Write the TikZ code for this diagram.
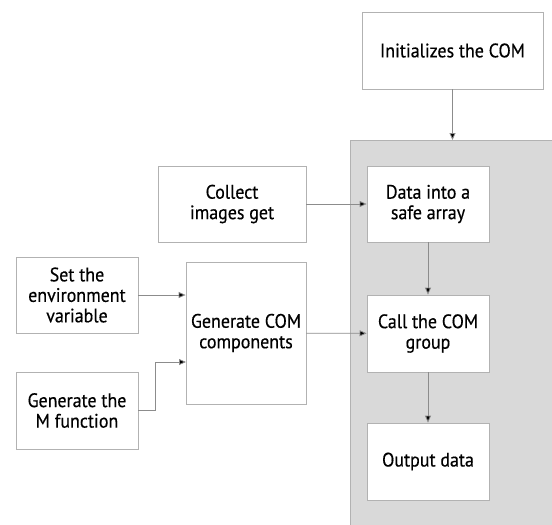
\documentclass[tikz,border=0pt]{standalone}
\usepackage{fontspec}
\setmainfont[FakeStretch=0.92,FakeBold=0.4]{PT Sans}
\usetikzlibrary{arrows.meta}
\begin{document}
\begin{tikzpicture}[x=1pt,y=-1pt,
  box/.style={draw=black!30, fill=white, line width=0.8pt, align=center, inner sep=0pt,
    font=\fontsize{19.5}{20.5}\selectfont},
  conn/.style={draw=black!45, line width=0.8pt, -{Triangle[length=7pt,width=6pt,fill=black]}}]
\useasboundingbox (0,0) rectangle (552,525);
\fill[black!15] (350,140) rectangle (552,525);
\draw[black!30, line width=0.8pt] (350,525) -- (350,140) -- (552,140);
\node[box, minimum width=181pt, minimum height=77pt] (init) at (452.5,50.5) {Initializes the COM};
\node[box, minimum width=148pt, minimum height=76pt] (collect) at (232,204) {Collect\\images get};
\node[box, minimum width=122pt, minimum height=76pt] (data) at (428,204) {Data into a\\safe array};
\node[box, minimum width=122pt, minimum height=76pt] (setenv) at (77,295) {Set the\\environment\\variable};
\node[box, minimum width=120pt, minimum height=142pt] (gencom) at (246,333) {Generate COM\\components};
\node[box, minimum width=122pt, minimum height=77pt] (call) at (428,333.5) {Call the COM\\group};
\node[box, minimum width=122pt, minimum height=77pt] (genm) at (77,410.5) {Generate the\\M function};
\node[box, minimum width=122pt, minimum height=77pt] (out) at (428,461.5) {Output data};
\coordinate (panel) at (452.5,140);
\draw[conn] (init) -- (panel);
\draw[conn] (collect) -- (data);
\draw[conn] (data) -- (call);
\draw[conn] (call) -- (out);
\draw[conn] (gencom) -- (call);
\draw[conn] (setenv.east) -- (setenv.east -| gencom.west);
\draw[conn] (genm.east) -- (155,410.5) -- (155,362) -- (186,362);
\end{tikzpicture}
\end{document}
